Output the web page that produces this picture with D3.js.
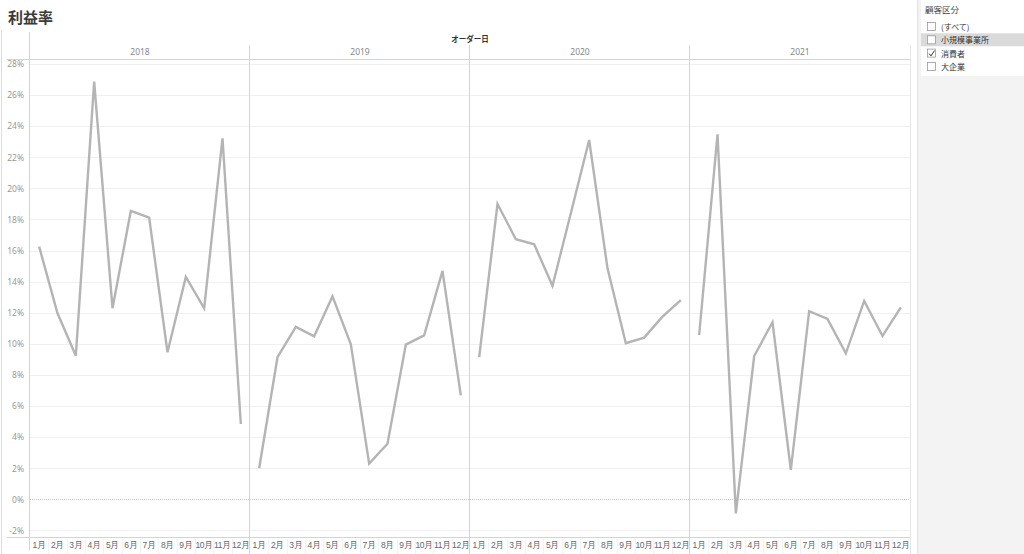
<!DOCTYPE html>
<html><head><meta charset="utf-8">
<script src="https://cdn.jsdelivr.net/npm/d3@7"></script>
<style>
html,body{margin:0;padding:0;background:#fff;}
svg{display:block;font-family:"Noto Sans CJK JP","Noto Sans",sans-serif;}
</style></head>
<body><svg id="c" width="1024" height="554"></svg>
<script>
const years = ["2018","2019","2020","2021"];
const months = ["1月","2月","3月","4月","5月","6月","7月","8月","9月","10月","11月","12月"];
const yTicks = [-2,0,2,4,6,8,10,12,14,16,18,20,22,24,26,28];
const profit2018 = [16.25,11.97,9.24,26.86,12.29,18.55,18.12,9.46,14.30,12.29,23.22,4.85];
const profit2019 = [2.00,9.14,11.09,10.49,13.06,9.97,2.30,3.58,9.95,10.55,14.69,6.69];
const profit2020 = [9.14,19.00,16.73,16.40,13.74,18.40,23.11,14.86,10.04,10.40,11.75,12.82];
const profit2021 = [10.57,23.48,-0.90,9.22,11.39,1.89,12.10,11.60,9.39,12.76,10.51,12.35];
const legendTitle = "顧客区分";
const legendItems = ["(すべて)","小規模事業所","消費者","大企業"];
const legendChecked = [false,false,true,false];
const series = [profit2018,profit2019,profit2020,profit2021];

const svg = d3.select("#c");
const L = 30, R = 910, T = 59, B = 537;

// right filter pane
svg.append("rect").attr("x",917).attr("y",0).attr("width",107).attr("height",554).attr("fill","#f3f3f3");
svg.append("line").attr("x1",917.5).attr("x2",917.5).attr("y1",0).attr("y2",554).attr("stroke","#e3e3e3");
svg.append("rect").attr("x",921).attr("y",0).attr("width",103).attr("height",76).attr("fill","#fff");
svg.append("text").attr("x",925).attr("y",13).attr("font-size",8.5).attr("fill","#444").text(legendTitle);
legendItems.forEach((t,i)=>{
  const cy = 27 + i*13.3;
  if(i===1) svg.append("rect").attr("x",921).attr("y",cy-7).attr("width",103).attr("height",13).attr("fill","#dadada");
  svg.append("rect").attr("x",927.5).attr("y",cy-4.5).attr("width",8).attr("height",8).attr("fill","#fff").attr("stroke","#999").attr("stroke-width",0.8);
  if(legendChecked[i]) svg.append("path").attr("d",`M${929},${cy} L${931},${cy+2.3} L${934.5},${cy-3}`).attr("fill","none").attr("stroke","#333").attr("stroke-width",1);
  svg.append("text").attr("x",941).attr("y",cy+3).attr("font-size",8).attr("fill","#333").text(t);
});

// title
svg.append("text").attr("x",8).attr("y",23).attr("font-size",15).attr("font-weight","bold").attr("fill","#3a3a3a").text("利益率");
svg.append("line").attr("x1",1.5).attr("x2",1.5).attr("y1",30).attr("y2",554).attr("stroke","#ddd");

// header
svg.append("text").attr("x",470).attr("y",42).attr("text-anchor","middle").attr("font-size",7.5).attr("font-weight","bold").attr("fill","#333").text("オーダー日");

const fx = d3.scaleBand().domain(years).range([L,R]).padding(0);
const y = d3.scaleLinear().domain([-2.42,28.32]).range([B,T]);

// gridlines
const gridG = svg.append("g");
gridG.selectAll("line").data(yTicks.filter(d=>d!==0)).join("line")
  .attr("x1",L).attr("x2",R).attr("y1",d=>Math.round(y(d))+0.5).attr("y2",d=>Math.round(y(d))+0.5)
  .attr("stroke","#f0f0f0");
svg.append("line").attr("x1",L).attr("x2",R).attr("y1",Math.round(y(0))+0.5).attr("y2",Math.round(y(0))+0.5)
  .attr("stroke","#c8c8c8").attr("stroke-dasharray","1,1");

// y axis
const yAxis = d3.axisLeft(y).tickValues(yTicks).tickFormat(d=>d+"%").tickSize(0).tickPadding(5);
const ya = svg.append("g").attr("transform",`translate(${L-1},0)`).call(yAxis);
ya.select(".domain").remove();
ya.selectAll("text").attr("font-size",8.5).attr("fill","#999").attr("font-family","Noto Sans, sans-serif");

// frame lines
svg.append("line").attr("x1",7).attr("x2",R).attr("y1",T+0.5).attr("y2",T+0.5).attr("stroke","#d4d4d4");
svg.append("line").attr("x1",7).attr("x2",R).attr("y1",B+0.5).attr("y2",B+0.5).attr("stroke","#d4d4d4");
svg.append("line").attr("x1",L-0.5).attr("x2",L-0.5).attr("y1",32).attr("y2",550).attr("stroke","#d4d4d4");
years.forEach((yr,i)=>{
  if(i>0) svg.append("line").attr("x1",fx(yr)-0.5).attr("x2",fx(yr)-0.5).attr("y1",45).attr("y2",554).attr("stroke","#d4d4d4");
});
svg.append("line").attr("x1",R+0.5).attr("x2",R+0.5).attr("y1",45).attr("y2",554).attr("stroke","#e6e6e6");

// year labels
svg.selectAll(".yr").data(years).join("text").attr("class","yr")
  .attr("x",d=>fx(d)+fx.bandwidth()/2).attr("y",55).attr("text-anchor","middle")
  .attr("font-size",8.5).attr("fill","#888").attr("font-family","Noto Sans, sans-serif").text(d=>d);

const line = d3.line();
years.forEach((yr,i)=>{
  const x = d3.scaleBand().domain(months).range([fx(yr), fx(yr)+fx.bandwidth()]).padding(0);
  const g = svg.append("g");
  // month separators
  months.slice(1).forEach(m=>{
    g.append("line").attr("x1",Math.round(x(m))+0.5).attr("x2",Math.round(x(m))+0.5).attr("y1",B+2).attr("y2",554).attr("stroke","#f2f2f2");
  });
  const xa = d3.axisBottom(x).tickSize(0).tickPadding(5);
  const ga = g.append("g").attr("transform",`translate(0,${B})`).call(xa);
  ga.select(".domain").remove();
  ga.selectAll("text").attr("font-size",8.5).attr("fill","#666").attr("letter-spacing","-0.3");
  const pts = series[i].map((v,j)=>[x(months[j])+x.bandwidth()/2, y(v)]);
  g.append("path").attr("d",line(pts)).attr("fill","none").attr("stroke","#b4b4b4").attr("stroke-width",2.4).attr("stroke-linejoin","miter");
});
</script></body></html>
